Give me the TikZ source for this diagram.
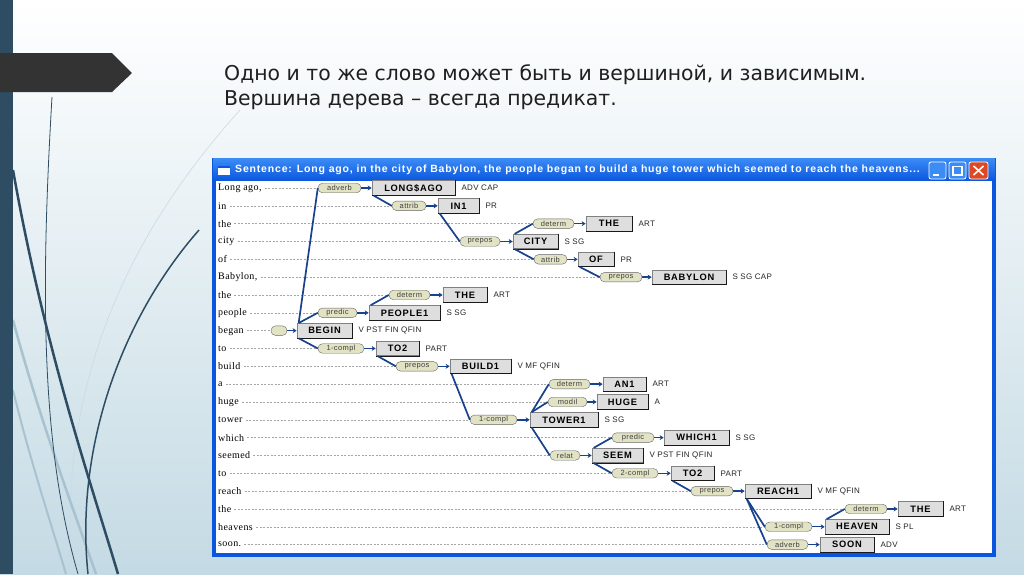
\documentclass[tikz,border=0pt]{standalone}
\usepackage{fontspec}
\setmainfont{Liberation Serif}
\setsansfont{Liberation Sans}
\newfontfamily\titlefont{DejaVu Sans}
\usetikzlibrary{arrows.meta}

\definecolor{barblue}{RGB}{46,76,98}
\definecolor{arrowgrey}{RGB}{51,51,51}
\definecolor{slideblue}{RGB}{196,218,228}
\definecolor{lightcurve}{RGB}{168,194,208}
\definecolor{xpblue}{RGB}{10,86,222}
\definecolor{xptop}{RGB}{60,140,246}
\definecolor{treeblue}{RGB}{24,66,140}
\definecolor{relfill}{RGB}{226,226,196}
\definecolor{boxfill}{RGB}{222,222,222}
\definecolor{closered}{RGB}{222,72,36}

\tikzset{
  word/.style={anchor=west, inner sep=0pt,
    font=\rmfamily\fontsize{10}{10}\selectfont\addfontfeatures{LetterSpace=4}},
  guide/.style={draw=black!35, dash pattern=on 2pt off 1.5pt, line width=0.4pt},
  rel/.style={draw=black!60, fill=relfill, rounded corners=4.5pt, minimum height=9.5pt,
    inner sep=0pt, text=black!75,
    font=\sffamily\fontsize{7.5}{7.5}\selectfont\addfontfeatures{LetterSpace=5}},
  box/.style={draw=black!50, fill=boxfill, minimum height=14.5pt, inner sep=0pt,
    line width=0.7pt,
    font=\sffamily\bfseries\fontsize{9.3}{9.3}\selectfont\addfontfeatures{LetterSpace=8}},
  boxedge/.style={draw=black!90, line width=1.1pt},
  tag/.style={anchor=west, inner sep=0pt, text=black!85,
    font=\sffamily\fontsize{8}{8}\selectfont\addfontfeatures{LetterSpace=4}},
  tree/.style={draw=treeblue, line width=1.7pt},
  link/.style={draw=treeblue, line width=1.4pt, -{Stealth[length=4pt,width=5pt]}},
  winbtn/.style={draw=white, line width=0.8pt, rounded corners=2pt},
}

\begin{document}
\begin{tikzpicture}[x=1pt,y=-1pt]
\useasboundingbox (0,0) rectangle (1024,574);

% slide background
\shade[top color=white, bottom color=slideblue] (0,0) rectangle (1024,574);
\draw[lightcurve!60, line width=0.6pt] (240,110) .. controls (150,210) and (55,360) .. (72,574);
\draw[lightcurve, line width=2.5pt] (13,320) .. controls (40,420) and (70,500) .. (96,574);
\draw[lightcurve, line width=2pt] (13,390) .. controls (30,460) and (50,520) .. (66,574);
\draw[barblue, line width=0.8pt] (52,97) .. controls (40,300) and (42,450) .. (78,574);
\draw[barblue, line width=2.5pt] (13,170) .. controls (45,350) and (90,480) .. (118,574);
\draw[barblue, line width=1.5pt] (199,230) .. controls (120,320) and (75,450) .. (88,574);
\fill[barblue] (0,0) rectangle (13,574);
\fill[arrowgrey] (0,53) -- (112,53) -- (132,73) -- (112,92) -- (0,92) -- cycle;

% heading
\node[anchor=base west, inner sep=0pt, font=\titlefont\fontsize{20.4}{26}\selectfont, text=black!88]
  (line1) at (224,80) {Одно и то же слово может быть и вершиной, и зависимым.};
\node[anchor=base west, inner sep=0pt, font=\titlefont\fontsize{20.4}{26}\selectfont, text=black!88]
  (line2) at (224,105) {Вершина дерева – всегда предикат.};

% window
\fill[xpblue] (212,158) rectangle (996,557);
\shade[top color=xptop, bottom color=xpblue] (213,158) rectangle (995,181);
\fill[white] (216,181) rectangle (992,553);
\fill[white] (218,166) rectangle (230,175);
\fill[xpblue] (218,166) rectangle (230,168);
\node[anchor=west, inner sep=0pt, text=white,
  font=\sffamily\bfseries\fontsize{10.5}{10.5}\selectfont\addfontfeatures{LetterSpace=7.8}]
  (wintitle) at (235,170) {Sentence: Long ago, in the city of Babylon, the people began to build a huge tower which seemed to reach the heavens...};
\draw[winbtn, fill=xptop] (929,162) rectangle (946,179);
\fill[white] (933,174) rectangle (939,176);
\draw[winbtn, fill=xptop] (949,162) rectangle (966,179);
\draw[white, line width=1.4pt] (953,166.5) rectangle (962,175);
\draw[winbtn, fill=closered] (969,162) rectangle (988,179);
\draw[white, line width=1.6pt] (973.5,166) -- (983.5,175) (983.5,166) -- (973.5,175);

% words of the sentence
\foreach \w [count=\i from 0] in {{Long ago,},in,the,city,of,{Babylon,},the,people,began,to,build,a,huge,tower,which,seemed,to,reach,the,heavens,{soon.}}
  \node[word] (w\i) at (218,{188+\i*17.83}) {\w};

% relation, word box, tag
\foreach \i/\rl/\rr/\rt/\bl/\br/\bt/\tg in {
  0/318/361/adverb/372/455/LONG\$AGO/ADV CAP,
  1/392/426/attrib/438/479/IN1/PR,
  2/533/574/determ/586/632/THE/ART,
  3/460/500/prepos/513/558/CITY/S SG,
  4/534/567/attrib/578/614/OF/PR,
  5/600/642/prepos/652/726/BABYLON/S SG CAP,
  6/389/430/determ/443/487/THE/ART,
  7/318/357/predic/369/440/PEOPLE1/S SG,
  8/271/287//297/352/BEGIN/V PST FIN QFIN,
  9/318/364/1-compl/376/419/TO2/PART,
  10/396/438/prepos/450/511/BUILD1/V MF QFIN,
  11/549/590/determ/603/646/AN1/ART,
  12/548/587/modil/597/648/HUGE/A,
  13/470/517/1-compl/530/598/TOWER1/S SG,
  14/612/654/predic/664/729/WHICH1/S SG,
  15/550/580/relat/592/643/SEEM/V PST FIN QFIN,
  16/612/658/2-compl/671/714/TO2/PART,
  17/691/733/prepos/745/811/REACH1/V MF QFIN,
  18/845/887/determ/898/943/THE/ART,
  19/765/812/1-compl/825/889/HEAVEN/S PL,
  20/767/808/adverb/820/874/SOON/ADV}
{
  \draw[guide] ([xshift=3pt]w\i.east) -- ({\rl},{188+\i*17.83});
  \node[rel, minimum width={\rr-\rl}] (r\i) at ({(\rl+\rr)/2},{188+\i*17.83}) {\rt};
  \node[box, minimum width={\br-\bl}] (b\i) at ({(\bl+\br)/2},{188+\i*17.83}) {\bt};
  \draw[boxedge] (b\i.north east) -- (b\i.south east) -- (b\i.south west);
  \node[tag] (t\i) at ([xshift=6pt]b\i.east) {\tg};
  \draw[link] (r\i.east) -- (b\i.west);
}

% tree
\draw[tree] ([xshift=2pt]b8.north west) -- (r0.west);
\draw[tree] ([xshift=2pt]b8.north west) -- (r7.west);
\draw[tree] ([xshift=2pt]b8.south west) -- (r9.west);
\draw[tree] ([xshift=2pt]b0.south west) -- (r1.west);
\draw[tree] ([xshift=2pt]b1.south west) -- (r3.west);
\draw[tree] ([xshift=2pt]b3.north west) -- (r2.west);
\draw[tree] ([xshift=2pt]b3.south west) -- (r4.west);
\draw[tree] ([xshift=2pt]b4.south west) -- (r5.west);
\draw[tree] ([xshift=2pt]b7.north west) -- (r6.west);
\draw[tree] ([xshift=2pt]b9.south west) -- (r10.west);
\draw[tree] ([xshift=2pt]b10.south west) -- (r13.west);
\draw[tree] ([xshift=2pt]b13.north west) -- (r11.west);
\draw[tree] ([xshift=2pt]b13.north west) -- (r12.west);
\draw[tree] ([xshift=2pt]b13.south west) -- (r15.west);
\draw[tree] ([xshift=2pt]b15.north west) -- (r14.west);
\draw[tree] ([xshift=2pt]b15.south west) -- (r16.west);
\draw[tree] ([xshift=2pt]b16.south west) -- (r17.west);
\draw[tree] ([xshift=2pt]b17.south west) -- (r19.west);
\draw[tree] ([xshift=2pt]b17.south west) -- (r20.west);
\draw[tree] ([xshift=2pt]b19.north west) -- (r18.west);
\end{tikzpicture}
\end{document}
